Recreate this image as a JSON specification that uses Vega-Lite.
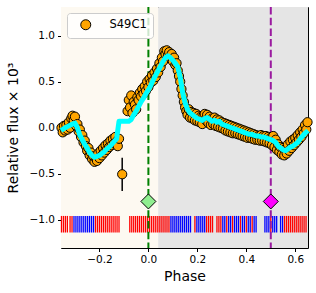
{
  "$schema": "https://vega.github.io/schema/vega-lite/v6.json",
  "autosize": {"type": "none"},
  "padding": {"left": 61, "top": 7, "right": 8, "bottom": 45},
  "width": 247,
  "height": 241,
  "config": {
    "font": "DejaVu Sans",
    "view": {"stroke": "black", "strokeWidth": 1},
    "axis": {"grid": false, "domain": false, "tickColor": "black", "tickSize": 3.5, "labelColor": "black", "labelFontSize": 10.5, "labelPadding": 3, "titleColor": "black", "titleFontSize": 14, "titleFontWeight": "normal"}
  },
  "datasets": {
    "pts": [
      {"p": -0.355, "f": 0.00}, {"p": -0.350, "f": -0.05}, {"p": -0.345, "f": 0.02}, {"p": -0.340, "f": -0.03},
      {"p": -0.335, "f": 0.03}, {"p": -0.330, "f": -0.02}, {"p": -0.325, "f": 0.06}, {"p": -0.320, "f": 0.00},
      {"p": -0.315, "f": 0.10}, {"p": -0.310, "f": 0.13}, {"p": -0.305, "f": 0.08}, {"p": -0.300, "f": 0.12},
      {"p": -0.295, "f": 0.02}, {"p": -0.290, "f": 0.04}, {"p": -0.285, "f": -0.04}, {"p": -0.280, "f": -0.02},
      {"p": -0.275, "f": -0.10}, {"p": -0.270, "f": -0.08}, {"p": -0.265, "f": -0.16}, {"p": -0.260, "f": -0.14},
      {"p": -0.255, "f": -0.20}, {"p": -0.250, "f": -0.25}, {"p": -0.245, "f": -0.22}, {"p": -0.240, "f": -0.30},
      {"p": -0.235, "f": -0.27}, {"p": -0.230, "f": -0.34}, {"p": -0.225, "f": -0.31}, {"p": -0.220, "f": -0.37},
      {"p": -0.215, "f": -0.33}, {"p": -0.210, "f": -0.36}, {"p": -0.205, "f": -0.28}, {"p": -0.200, "f": -0.33},
      {"p": -0.195, "f": -0.25}, {"p": -0.190, "f": -0.30}, {"p": -0.185, "f": -0.22}, {"p": -0.180, "f": -0.27},
      {"p": -0.175, "f": -0.19}, {"p": -0.170, "f": -0.24}, {"p": -0.165, "f": -0.17}, {"p": -0.160, "f": -0.21},
      {"p": -0.155, "f": -0.14}, {"p": -0.150, "f": -0.19}, {"p": -0.145, "f": -0.12}, {"p": -0.140, "f": -0.17},
      {"p": -0.135, "f": -0.10}, {"p": -0.130, "f": -0.15}, {"p": -0.125, "f": -0.20}, {"p": -0.120, "f": -0.12},
      {"p": -0.107, "f": -0.505, "lo": -0.686, "hi": -0.325},
      {"p": -0.085, "f": 0.18}, {"p": -0.080, "f": 0.30}, {"p": -0.075, "f": 0.22}, {"p": -0.070, "f": 0.35},
      {"p": -0.065, "f": 0.16}, {"p": -0.060, "f": 0.28}, {"p": -0.055, "f": 0.25}, {"p": -0.050, "f": 0.20},
      {"p": -0.045, "f": 0.33}, {"p": -0.040, "f": 0.30}, {"p": -0.035, "f": 0.38}, {"p": -0.030, "f": 0.34},
      {"p": -0.025, "f": 0.42}, {"p": -0.020, "f": 0.37}, {"p": -0.015, "f": 0.45}, {"p": -0.010, "f": 0.40},
      {"p": -0.005, "f": 0.50}, {"p": 0.000, "f": 0.44}, {"p": 0.005, "f": 0.53}, {"p": 0.010, "f": 0.49},
      {"p": 0.015, "f": 0.57}, {"p": 0.020, "f": 0.51}, {"p": 0.025, "f": 0.60}, {"p": 0.030, "f": 0.55},
      {"p": 0.035, "f": 0.64}, {"p": 0.040, "f": 0.60}, {"p": 0.045, "f": 0.70}, {"p": 0.050, "f": 0.66},
      {"p": 0.055, "f": 0.76}, {"p": 0.060, "f": 0.72}, {"p": 0.065, "f": 0.83}, {"p": 0.070, "f": 0.80},
      {"p": 0.075, "f": 0.84}, {"p": 0.080, "f": 0.78}, {"p": 0.085, "f": 0.82}, {"p": 0.090, "f": 0.76},
      {"p": 0.095, "f": 0.80}, {"p": 0.100, "f": 0.72}, {"p": 0.105, "f": 0.76}, {"p": 0.110, "f": 0.68},
      {"p": 0.115, "f": 0.70}, {"p": 0.120, "f": 0.62}, {"p": 0.125, "f": 0.56}, {"p": 0.130, "f": 0.50},
      {"p": 0.135, "f": 0.42}, {"p": 0.140, "f": 0.35}, {"p": 0.145, "f": 0.28}, {"p": 0.150, "f": 0.22},
      {"p": 0.155, "f": 0.18}, {"p": 0.160, "f": 0.14}, {"p": 0.165, "f": 0.20}, {"p": 0.170, "f": 0.11},
      {"p": 0.175, "f": 0.17}, {"p": 0.180, "f": 0.10}, {"p": 0.185, "f": 0.16}, {"p": 0.190, "f": 0.08},
      {"p": 0.195, "f": 0.15}, {"p": 0.200, "f": 0.07}, {"p": 0.205, "f": 0.13}, {"p": 0.210, "f": 0.06},
      {"p": 0.215, "f": 0.12}, {"p": 0.220, "f": 0.04}, {"p": 0.225, "f": 0.13}, {"p": 0.230, "f": 0.15},
      {"p": 0.235, "f": 0.08}, {"p": 0.240, "f": 0.14}, {"p": 0.245, "f": 0.05}, {"p": 0.250, "f": 0.12},
      {"p": 0.255, "f": 0.03}, {"p": 0.260, "f": 0.10}, {"p": 0.265, "f": 0.04}, {"p": 0.270, "f": 0.11},
      {"p": 0.275, "f": 0.02}, {"p": 0.280, "f": 0.09}, {"p": 0.285, "f": 0.01}, {"p": 0.290, "f": 0.08},
      {"p": 0.295, "f": 0.00}, {"p": 0.300, "f": 0.06}, {"p": 0.305, "f": -0.01}, {"p": 0.310, "f": 0.05},
      {"p": 0.315, "f": -0.03}, {"p": 0.320, "f": 0.04}, {"p": 0.325, "f": -0.04}, {"p": 0.330, "f": 0.03},
      {"p": 0.335, "f": -0.05}, {"p": 0.340, "f": 0.02}, {"p": 0.345, "f": -0.06}, {"p": 0.350, "f": 0.01},
      {"p": 0.355, "f": -0.06}, {"p": 0.360, "f": 0.00}, {"p": 0.365, "f": -0.07}, {"p": 0.370, "f": -0.01},
      {"p": 0.375, "f": -0.08}, {"p": 0.380, "f": -0.02}, {"p": 0.385, "f": -0.09}, {"p": 0.390, "f": -0.03},
      {"p": 0.395, "f": -0.10}, {"p": 0.400, "f": -0.04}, {"p": 0.405, "f": -0.11}, {"p": 0.410, "f": -0.05},
      {"p": 0.415, "f": -0.11}, {"p": 0.420, "f": -0.06}, {"p": 0.425, "f": -0.12}, {"p": 0.430, "f": -0.07},
      {"p": 0.435, "f": -0.13}, {"p": 0.440, "f": -0.08}, {"p": 0.445, "f": -0.13}, {"p": 0.450, "f": -0.09},
      {"p": 0.455, "f": -0.14}, {"p": 0.460, "f": -0.08}, {"p": 0.465, "f": -0.14}, {"p": 0.470, "f": -0.09},
      {"p": 0.475, "f": -0.15}, {"p": 0.480, "f": -0.09}, {"p": 0.485, "f": -0.16}, {"p": 0.490, "f": -0.10},
      {"p": 0.495, "f": -0.17}, {"p": 0.500, "f": -0.11}, {"p": 0.505, "f": -0.19}, {"p": 0.510, "f": -0.09},
      {"p": 0.515, "f": -0.21}, {"p": 0.520, "f": -0.13}, {"p": 0.525, "f": -0.24}, {"p": 0.530, "f": -0.18},
      {"p": 0.535, "f": -0.26}, {"p": 0.540, "f": -0.21}, {"p": 0.545, "f": -0.29}, {"p": 0.550, "f": -0.22},
      {"p": 0.555, "f": -0.30}, {"p": 0.560, "f": -0.23}, {"p": 0.565, "f": -0.28}, {"p": 0.570, "f": -0.18},
      {"p": 0.575, "f": -0.25}, {"p": 0.580, "f": -0.15}, {"p": 0.585, "f": -0.22}, {"p": 0.590, "f": -0.13},
      {"p": 0.595, "f": -0.19}, {"p": 0.600, "f": -0.11}, {"p": 0.605, "f": -0.16}, {"p": 0.610, "f": -0.08},
      {"p": 0.615, "f": -0.13}, {"p": 0.620, "f": -0.05}, {"p": 0.625, "f": -0.10}, {"p": 0.630, "f": -0.02},
      {"p": 0.635, "f": -0.06}, {"p": 0.640, "f": 0.03}, {"p": 0.645, "f": -0.02}, {"p": 0.650, "f": 0.06}
    ],
    "model": [
      {"p": -0.357, "m": -0.03}, {"p": -0.34, "m": 0.0}, {"p": -0.325, "m": 0.02}, {"p": -0.31, "m": 0.04},
      {"p": -0.30, "m": 0.05}, {"p": -0.29, "m": 0.0}, {"p": -0.28, "m": -0.08}, {"p": -0.27, "m": -0.13},
      {"p": -0.26, "m": -0.18}, {"p": -0.25, "m": -0.22}, {"p": -0.24, "m": -0.27}, {"p": -0.23, "m": -0.30},
      {"p": -0.22, "m": -0.32}, {"p": -0.21, "m": -0.31}, {"p": -0.20, "m": -0.30}, {"p": -0.19, "m": -0.28},
      {"p": -0.18, "m": -0.26}, {"p": -0.17, "m": -0.23}, {"p": -0.16, "m": -0.21}, {"p": -0.15, "m": -0.18},
      {"p": -0.14, "m": -0.15}, {"p": -0.13, "m": -0.12}, {"p": -0.12, "m": 0.07}, {"p": -0.08, "m": 0.07},
      {"p": -0.07, "m": 0.09}, {"p": -0.06, "m": 0.14}, {"p": -0.05, "m": 0.18}, {"p": -0.04, "m": 0.23},
      {"p": -0.03, "m": 0.28}, {"p": -0.02, "m": 0.32}, {"p": -0.01, "m": 0.37}, {"p": 0.0, "m": 0.41},
      {"p": 0.01, "m": 0.46}, {"p": 0.02, "m": 0.52}, {"p": 0.03, "m": 0.57}, {"p": 0.04, "m": 0.62},
      {"p": 0.05, "m": 0.67}, {"p": 0.06, "m": 0.72}, {"p": 0.07, "m": 0.76}, {"p": 0.08, "m": 0.78},
      {"p": 0.09, "m": 0.76}, {"p": 0.10, "m": 0.73}, {"p": 0.11, "m": 0.70}, {"p": 0.12, "m": 0.66},
      {"p": 0.13, "m": 0.55}, {"p": 0.14, "m": 0.38}, {"p": 0.15, "m": 0.27}, {"p": 0.16, "m": 0.20},
      {"p": 0.17, "m": 0.16}, {"p": 0.18, "m": 0.14}, {"p": 0.19, "m": 0.12}, {"p": 0.20, "m": 0.10},
      {"p": 0.21, "m": 0.09}, {"p": 0.22, "m": 0.08}, {"p": 0.23, "m": 0.10}, {"p": 0.24, "m": 0.11},
      {"p": 0.25, "m": 0.09}, {"p": 0.26, "m": 0.07}, {"p": 0.27, "m": 0.08}, {"p": 0.28, "m": 0.06},
      {"p": 0.29, "m": 0.07}, {"p": 0.30, "m": 0.04}, {"p": 0.31, "m": 0.03}, {"p": 0.32, "m": 0.02},
      {"p": 0.33, "m": 0.01}, {"p": 0.34, "m": 0.0}, {"p": 0.35, "m": -0.01}, {"p": 0.36, "m": -0.02},
      {"p": 0.37, "m": -0.03}, {"p": 0.38, "m": -0.04}, {"p": 0.39, "m": -0.05}, {"p": 0.40, "m": -0.06},
      {"p": 0.41, "m": -0.07}, {"p": 0.42, "m": -0.07}, {"p": 0.43, "m": -0.08}, {"p": 0.44, "m": -0.09},
      {"p": 0.45, "m": -0.09}, {"p": 0.46, "m": -0.10}, {"p": 0.47, "m": -0.10}, {"p": 0.48, "m": -0.11},
      {"p": 0.49, "m": -0.12}, {"p": 0.50, "m": -0.13}, {"p": 0.51, "m": -0.14}, {"p": 0.52, "m": -0.16},
      {"p": 0.53, "m": -0.20}, {"p": 0.54, "m": -0.22}, {"p": 0.55, "m": -0.24}, {"p": 0.56, "m": -0.25},
      {"p": 0.57, "m": -0.23}, {"p": 0.58, "m": -0.21}, {"p": 0.59, "m": -0.20}, {"p": 0.60, "m": -0.18},
      {"p": 0.61, "m": -0.16}, {"p": 0.62, "m": -0.12}, {"p": 0.63, "m": -0.09}, {"p": 0.64, "m": -0.06},
      {"p": 0.652, "m": -0.03}
    ],
    "rug": [
      {"p": -0.355, "s": "A"}, {"p": -0.347, "s": "A"}, {"p": -0.339, "s": "A"}, {"p": -0.331, "s": "A"},
      {"p": -0.320, "s": "A"}, {"p": -0.312, "s": "A"},
      {"p": -0.304, "s": "B"}, {"p": -0.296, "s": "B"}, {"p": -0.288, "s": "B"}, {"p": -0.280, "s": "B"},
      {"p": -0.272, "s": "B"}, {"p": -0.264, "s": "B"}, {"p": -0.256, "s": "B"}, {"p": -0.248, "s": "B"},
      {"p": -0.240, "s": "B"}, {"p": -0.232, "s": "B"}, {"p": -0.224, "s": "B"},
      {"p": -0.216, "s": "A"}, {"p": -0.208, "s": "A"}, {"p": -0.200, "s": "A"}, {"p": -0.192, "s": "A"},
      {"p": -0.184, "s": "A"}, {"p": -0.176, "s": "A"}, {"p": -0.168, "s": "A"}, {"p": -0.160, "s": "A"},
      {"p": -0.152, "s": "A"}, {"p": -0.144, "s": "A"}, {"p": -0.136, "s": "A"}, {"p": -0.128, "s": "A"},
      {"p": -0.120, "s": "A"},
      {"p": -0.076, "s": "A"}, {"p": -0.068, "s": "A"}, {"p": -0.060, "s": "A"}, {"p": -0.052, "s": "A"},
      {"p": -0.044, "s": "A"}, {"p": -0.036, "s": "A"}, {"p": -0.028, "s": "A"}, {"p": -0.020, "s": "A"},
      {"p": -0.012, "s": "A"}, {"p": -0.004, "s": "A"}, {"p": 0.004, "s": "A"}, {"p": 0.012, "s": "A"},
      {"p": 0.020, "s": "A"}, {"p": 0.028, "s": "A"}, {"p": 0.036, "s": "A"}, {"p": 0.044, "s": "A"},
      {"p": 0.052, "s": "A"}, {"p": 0.060, "s": "A"}, {"p": 0.068, "s": "A"}, {"p": 0.076, "s": "A"},
      {"p": 0.084, "s": "A"},
      {"p": 0.092, "s": "B"}, {"p": 0.100, "s": "B"}, {"p": 0.108, "s": "B"}, {"p": 0.116, "s": "B"},
      {"p": 0.124, "s": "B"}, {"p": 0.132, "s": "B"}, {"p": 0.140, "s": "B"}, {"p": 0.148, "s": "B"},
      {"p": 0.156, "s": "B"}, {"p": 0.164, "s": "B"}, {"p": 0.172, "s": "B"},
      {"p": 0.190, "s": "A"}, {"p": 0.198, "s": "B"}, {"p": 0.206, "s": "B"}, {"p": 0.214, "s": "B"},
      {"p": 0.222, "s": "B"}, {"p": 0.230, "s": "B"}, {"p": 0.238, "s": "A"}, {"p": 0.246, "s": "A"},
      {"p": 0.254, "s": "A"}, {"p": 0.262, "s": "A"},
      {"p": 0.280, "s": "A"}, {"p": 0.288, "s": "A"}, {"p": 0.296, "s": "A"}, {"p": 0.304, "s": "B"},
      {"p": 0.312, "s": "B"}, {"p": 0.320, "s": "A"}, {"p": 0.328, "s": "B"}, {"p": 0.336, "s": "B"},
      {"p": 0.344, "s": "A"}, {"p": 0.352, "s": "B"}, {"p": 0.360, "s": "B"}, {"p": 0.368, "s": "B"},
      {"p": 0.376, "s": "A"}, {"p": 0.384, "s": "B"}, {"p": 0.392, "s": "B"}, {"p": 0.400, "s": "A"},
      {"p": 0.408, "s": "B"}, {"p": 0.416, "s": "B"}, {"p": 0.424, "s": "A"}, {"p": 0.432, "s": "B"},
      {"p": 0.440, "s": "B"},
      {"p": 0.476, "s": "B"}, {"p": 0.484, "s": "B"}, {"p": 0.492, "s": "B"}, {"p": 0.500, "s": "A"},
      {"p": 0.508, "s": "B"}, {"p": 0.516, "s": "B"}, {"p": 0.524, "s": "B"},
      {"p": 0.540, "s": "B"}, {"p": 0.548, "s": "B"}, {"p": 0.556, "s": "A"}, {"p": 0.564, "s": "A"},
      {"p": 0.572, "s": "A"}, {"p": 0.580, "s": "A"}, {"p": 0.588, "s": "A"}, {"p": 0.596, "s": "A"},
      {"p": 0.604, "s": "A"}, {"p": 0.612, "s": "A"}, {"p": 0.620, "s": "A"}, {"p": 0.628, "s": "A"},
      {"p": 0.636, "s": "A"}, {"p": 0.644, "s": "A"}
    ],
    "one": [{}]
  },
  "encoding": {
    "x": {"type": "quantitative", "scale": {"domain": [-0.357, 0.652], "nice": false, "zero": false},
          "axis": {"title": "Phase", "values": [-0.2, 0, 0.2, 0.4, 0.6], "format": ".1f", "titlePadding": 4}},
    "y": {"type": "quantitative", "scale": {"domain": [-1.305, 1.31], "nice": false, "zero": false},
          "axis": {"title": "Relative flux × 10³", "values": [-1, -0.5, 0, 0.5, 1], "format": ".1f", "titlePadding": 9}}
  },
  "layer": [
    {"data": {"name": "one"}, "mark": {"type": "rect", "color": "#fdf9f1", "clip": true},
     "encoding": {"x": {"datum": -0.4}, "x2": {"datum": 0.04}}},
    {"data": {"name": "one"}, "mark": {"type": "rect", "color": "#e5e5e5", "clip": true},
     "encoding": {"x": {"datum": 0.04}, "x2": {"datum": 0.7}}},
    {"data": {"name": "rug"}, "mark": {"type": "rule", "strokeWidth": 1.3},
     "encoding": {"x": {"field": "p"}, "y": {"datum": -0.957}, "y2": {"datum": -1.137},
                  "stroke": {"field": "s", "type": "nominal", "scale": {"domain": ["A", "B"], "range": ["#ff0000", "#0000ff"]}, "legend": null}}},
    {"data": {"name": "one"}, "mark": {"type": "rule", "color": "#008000", "strokeWidth": 2, "strokeDash": [7.5, 3.2]},
     "encoding": {"x": {"datum": 0}}},
    {"data": {"name": "one"}, "mark": {"type": "rule", "color": "#9a1a9f", "strokeWidth": 2, "strokeDash": [7.5, 3.2]},
     "encoding": {"x": {"datum": 0.5}}},
    {"data": {"name": "pts"}, "mark": {"type": "rule", "color": "black", "strokeWidth": 1.5},
     "encoding": {"x": {"field": "p"}, "y": {"field": "lo"}, "y2": {"field": "hi"}}},
    {"data": {"name": "pts"}, "mark": {"type": "point", "shape": "circle", "filled": true, "size": 85, "stroke": "black", "strokeWidth": 1, "opacity": 1},
     "encoding": {"x": {"field": "p"}, "y": {"field": "f"},
                  "fill": {"datum": "S49C1", "scale": {"range": ["#ffa500"]},
                           "legend": {"title": null, "orient": "none", "legendX": 6, "legendY": 6, "padding": 6, "symbolOffset": 7,
                                      "labelOffset": 18, "labelFontSize": 11.5, "labelColor": "black", "symbolSize": 100,
                                      "symbolStrokeColor": "black", "symbolStrokeWidth": 1, "symbolType": "circle",
                                      "fillColor": "rgba(255,255,255,0.8)", "strokeColor": "#cccccc", "cornerRadius": 3}}}},
    {"data": {"name": "model"}, "mark": {"type": "line", "color": "#00ffff", "strokeWidth": 5, "strokeJoin": "round"},
     "encoding": {"x": {"field": "p"}, "y": {"field": "m"}}},
    {"data": {"name": "one"}, "mark": {"type": "point", "shape": "diamond", "filled": true, "size": 225, "fill": "#90ee90", "stroke": "black", "strokeWidth": 1, "opacity": 1},
     "encoding": {"x": {"datum": 0}, "y": {"datum": -0.8}}},
    {"data": {"name": "one"}, "mark": {"type": "point", "shape": "diamond", "filled": true, "size": 225, "fill": "#ff00ff", "stroke": "black", "strokeWidth": 1, "opacity": 1},
     "encoding": {"x": {"datum": 0.5}, "y": {"datum": -0.8}}}
  ]
}
